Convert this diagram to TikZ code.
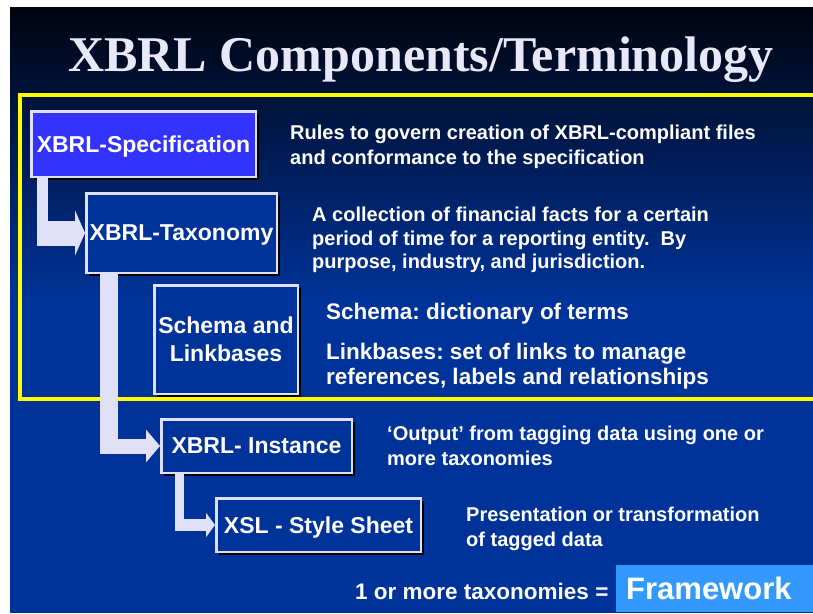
\documentclass[tikz,border=0pt]{standalone}
\usepackage{fontspec}
\setmainfont{Liberation Serif}
\setsansfont{Liberation Sans}
\usepackage{xcolor}
\usepackage{tikz}
\usetikzlibrary{calc, arrows.meta, shadows}

\definecolor{slidetop}{HTML}{00040F}
\definecolor{slidemid}{HTML}{001E58}
\definecolor{slideblue}{HTML}{003399}
\definecolor{boxedge}{HTML}{E0E0F8}
\definecolor{specblue}{HTML}{3333FF}
\definecolor{fwblue}{HTML}{3399FF}
\definecolor{titlegray}{HTML}{E8E8F8}
\definecolor{framey}{HTML}{FFFF00}

\begin{document}
\frenchspacing
\begin{tikzpicture}[x=1pt, y=-1pt, text=white, font=\sffamily\bfseries]
		\tikzstyle{comp} = [draw=boxedge, line width=2.5pt, fill=slideblue, align=center, inner sep=0pt, text depth=0pt, font=\fontsize{23}{28}\selectfont\sffamily\bfseries, drop shadow={shadow xshift=3pt, shadow yshift=-3pt, fill=black, opacity=1}]
		\tikzstyle{desc} = [anchor=west, align=left, inner sep=0pt, font=\fontsize{20}{25}\selectfont\sffamily\bfseries]
		\tikzstyle{big} = [desc, font=\fontsize{22.5}{25}\selectfont\sffamily\bfseries]
		\tikzstyle{flow} = [draw=boxedge, line cap=butt]
		
		\useasboundingbox (0,0) rectangle (813,613);
		\fill[white] (0,0) rectangle (813,613);
		\fill[slideblue] (10,7) rectangle (813,613);
		\shade[top color=slidetop, middle color=slidemid, bottom color=slideblue] (10,7) rectangle (813,300);
		\draw[framey, line width=4pt] (813,95) -| (20,399) -- (813,399);
		
		\node[anchor=base, font=\fontsize{50}{50}\selectfont\rmfamily\bfseries, text=titlegray] at (421,71) (title) {XBRL Components/Terminology};
		
		\node[comp, fill=specblue, minimum width=224.5pt, minimum height=65.5pt] at (143.5,144) (spec) {XBRL-Specification};
		\node[comp, minimum width=190.5pt, minimum height=79.5pt] at (181.5,233) (tax) {XBRL-Taxonomy};
		\node[comp, minimum width=143.5pt, minimum height=108.5pt] at (226,339.5) (schema) {Schema and\\Linkbases};
		\node[comp, minimum width=190.5pt, minimum height=53.5pt] at (256.5,446) (inst) {XBRL- Instance};
		\node[comp, minimum width=204.5pt, minimum height=53.5pt] at (318.5,525) (xsl) {XSL - Style Sheet};
		
		\node[desc] at (290,147) (specd) {Rules to govern creation of XBRL-compliant files\\and conformance to the specification};
		\node[desc, font=\fontsize{20}{23.5}\selectfont\sffamily\bfseries] at (312,240) (taxd) {A collection of financial facts for a certain\\period of time for a reporting entity.\ \ By\\purpose, industry, and jurisdiction.};
		\node[big] at (326,314) (schemad) {Schema: dictionary of terms};
		\node[big] at (326,366) (linkd) {Linkbases: set of links to manage\\references, labels and relationships};
		\node[desc] at (387,446) (instd) {‘Output’ from tagging data using one or\\more taxonomies};
		\node[desc] at (466,529) (xsld) {Presentation or transformation\\of tagged data};
		\node[desc, font=\fontsize{22.5}{25}\selectfont\sffamily\bfseries] at (355,591) (count) {1 or more taxonomies =};
		\node[fill=fwblue, anchor=west, minimum height=47pt, inner ysep=0pt, inner xsep=10pt, text width=177pt, align=left, font=\fontsize{31}{31}\selectfont\sffamily\bfseries] at (616,588.5) (frame) {Framework};
		
		\coordinate (k1) at ($(spec.south west)+(12.5,0)$);
		\draw[flow, line width=11pt] (k1) -- ($(k1 |- tax.west)+(0,12.5)$);
		\draw[flow, line width=25pt, -{Triangle[length=10pt, width=45pt]}] ($(k1 |- tax.west)+(-5.5,0)$) -- (tax.west);
		
		\coordinate (k2) at ($(tax.south west)+(24,0)$);
		\draw[flow, line width=18pt] (k2) -- ($(k2 |- inst.west)+(0,7.5)$);
		\draw[flow, line width=15pt, -{Triangle[length=14pt, width=32pt]}] ($(k2 |- inst.west)+(-9,0)$) -- (inst.west);
		
		\coordinate (k3) at ($(inst.south west)+(19.5,0)$);
		\draw[flow, line width=9pt] (k3) -- ($(k3 |- xsl.west)+(0,6)$);
		\draw[flow, line width=12pt, -{Triangle[length=9pt, width=24pt]}] ($(k3 |- xsl.west)+(-4.5,0)$) -- (xsl.west);
	\end{tikzpicture}
\end{document}
